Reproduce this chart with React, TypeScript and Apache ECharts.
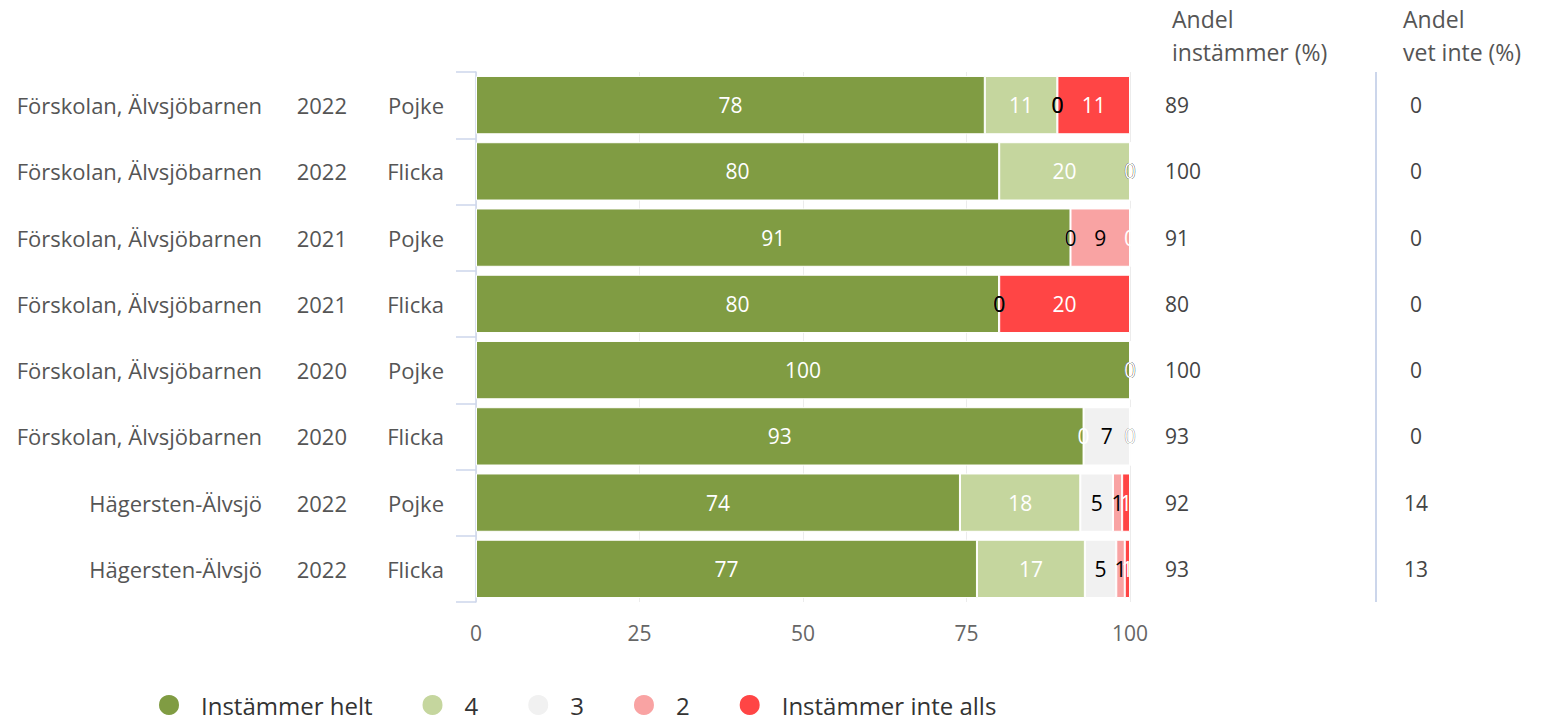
import React, { useEffect, useRef } from "react";
import * as echarts from "echarts";

const units = [
  "Förskolan, Älvsjöbarnen",
  "Förskolan, Älvsjöbarnen",
  "Förskolan, Älvsjöbarnen",
  "Förskolan, Älvsjöbarnen",
  "Förskolan, Älvsjöbarnen",
  "Förskolan, Älvsjöbarnen",
  "Hägersten-Älvsjö",
  "Hägersten-Älvsjö",
];
const years = ["2022", "2022", "2021", "2021", "2020", "2020", "2022", "2022"];
const genders = ["Pojke", "Flicka", "Pojke", "Flicka", "Pojke", "Flicka", "Pojke", "Flicka"];

const seriesNames = ["Instämmer helt", "4", "3", "2", "Instämmer inte alls"];
const helt = [77.8, 80, 90.9, 80, 100, 92.9, 74.0, 76.6];
const fyra = [11.1, 20, 0, 0, 0, 0, 18.4, 16.5];
const tre = [0, 0, 0, 0, 0, 7.1, 5.0, 4.8];
const tva = [0, 0, 9.1, 0, 0, 0, 1.4, 1.3];
const inteAlls = [11.1, 0, 0, 20, 0, 0, 1.2, 0.8];
const andelInstammer = [89, 100, 91, 80, 100, 93, 92, 93];
const andelVetInte = [0, 0, 0, 0, 0, 0, 14, 13];
const xTicks = [0, 25, 50, 75, 100];

const colors = ["#809c43", "#c5d69e", "#f1f1f1", "#f9a3a3", "#ff4545"];
const labelColors = ["#ffffff", "#ffffff", "#000000", "#000000", "#ffffff"];
const FONT = "Open Sans";

export default function App() {
  const ref = useRef<HTMLDivElement>(null);
  useEffect(() => {
    if (!ref.current) return;
    const chart = echarts.init(ref.current, null, { renderer: "svg" });
    const cats = units.map((u, i) => `${u} ${years[i]} ${genders[i]}`);
    const data = [helt, fyra, tre, tva, inteAlls];
    chart.setOption({
      animation: false,
      textStyle: { fontFamily: FONT },
      grid: { left: 476, right: 420, top: 72, bottom: 122, containLabel: false },
      legend: {
        top: 688,
        left: 152,
        icon: "circle",
        itemWidth: 22,
        itemHeight: 22,
        itemGap: 48,
        data: seriesNames,
        textStyle: { fontSize: 24, color: "#333", fontFamily: FONT, padding: [0, 0, 0, 16] },
      },
      xAxis: {
        type: "value",
        min: xTicks[0],
        max: xTicks[xTicks.length - 1],
        interval: 25,
        axisLine: { show: false },
        axisTick: { show: false },
        splitLine: { show: true, lineStyle: { color: "#ececec" } },
        axisLabel: { color: "#666", fontSize: 21, margin: 20, fontFamily: FONT },
      },
      yAxis: [
        {
          type: "category",
          data: cats,
          inverse: true,
          axisLine: { show: true, lineStyle: { color: "#ccd6eb", width: 1.5 } },
          axisTick: { show: true, length: 20, lineStyle: { color: "#ccd6eb", width: 1.5 } },
          axisLabel: {
            margin: 32,
            formatter: (_v: string, i: number) =>
              `{a|${units[i]}}{b|${years[i]}}{c|${genders[i]}}`,
            rich: {
              a: { width: 255, align: "right", fontSize: 22, color: "#555", fontFamily: FONT },
              b: { width: 85, align: "right", fontSize: 22, color: "#555", fontFamily: FONT },
              c: { width: 97, align: "right", fontSize: 22, color: "#555", fontFamily: FONT },
            },
          },
        },
        {
          type: "category",
          data: cats,
          inverse: true,
          position: "right",
          axisLine: { show: false },
          axisTick: { show: false },
          axisLabel: {
            margin: 35,
            align: "left",
            formatter: (_v: string, i: number) => `{v|${andelInstammer[i]}}{w|${andelVetInte[i]}}`,
            rich: {
              v: { width: 230, align: "left", fontSize: 21, color: "#444", fontFamily: FONT },
              w: { width: 42, align: "center", fontSize: 21, color: "#444", fontFamily: FONT },
            },
          },
        },
      ],
      series: data.map((d, si) => ({
        name: seriesNames[si],
        type: "bar",
        stack: "total",
        yAxisIndex: 0,
        barCategoryGap: "12%",
        data: d,
        itemStyle: { color: colors[si], borderColor: "#fff", borderWidth: 1 },
        label: {
          show: true,
          position: "inside",
          color: labelColors[si],
          fontSize: 21,
          fontFamily: FONT,
          formatter: (p: any) => `${Math.round(p.value)}`,
        },
      })),
      graphic: [
        {
          type: "line",
          shape: { x1: 1376, y1: 72, x2: 1376, y2: 602 },
          style: { stroke: "#ccd6eb", lineWidth: 2 },
        },
        {
          type: "text",
          x: 1172,
          y: 2,
          style: {
            text: "Andel\ninstämmer (%)",
            fontSize: 23,
            lineHeight: 33,
            fill: "#555",
            fontFamily: FONT,
          },
        },
        {
          type: "text",
          x: 1403,
          y: 2,
          style: {
            text: "Andel\nvet inte (%)",
            fontSize: 23,
            lineHeight: 33,
            fill: "#555",
            fontFamily: FONT,
          },
        },
      ],
    });
    return () => chart.dispose();
  }, []);
  return <div ref={ref} style={{ width: 1550, height: 724, position: "absolute", left: 0, top: 0 }} />;
}
